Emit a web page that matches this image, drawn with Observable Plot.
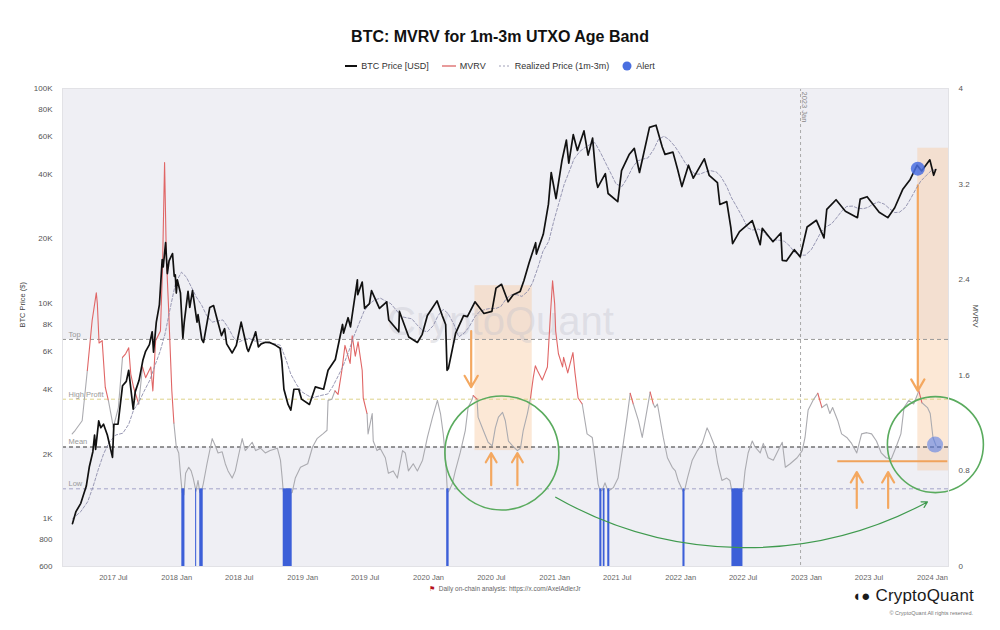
<!DOCTYPE html>
<html><head><meta charset="utf-8">
<script src="https://cdn.jsdelivr.net/npm/d3@7"></script>
<script src="https://cdn.jsdelivr.net/npm/@observablehq/plot@0.6"></script>
<style>
body{margin:0;background:#fff;font-family:"Liberation Sans",Arial,sans-serif;}
#wrap{position:relative;width:1000px;height:630px;overflow:hidden;background:#fff;}
#title{position:absolute;top:28px;left:0;width:1000px;text-align:center;font-size:16px;font-weight:bold;color:#111;}
#legend{position:absolute;top:61px;left:0;width:1000px;display:flex;justify-content:center;gap:13px;font-size:9px;color:#333;align-items:center;}
#legend span{display:flex;align-items:center;gap:4px;}
.layer{position:absolute;left:0;top:78px;}
#caption{position:absolute;top:585px;left:0;width:1010px;text-align:center;font-size:6.5px;color:#666;}
#caption b{color:#b5121b;font-weight:normal;font-size:7px;}
#brand{position:absolute;top:586px;right:26px;font-size:17px;color:#1a1a1a;letter-spacing:0.2px;}
#copy{position:absolute;top:610px;right:27px;font-size:5.5px;color:#777;}
</style></head>
<body><div id="wrap">
<div id="title">BTC: MVRV for 1m-3m UTXO Age Band</div>
<div id="legend">
<span><svg width="12" height="6"><line x1="0" y1="3" x2="12" y2="3" stroke="#111" stroke-width="2"/></svg>BTC Price [USD]</span>
<span><svg width="14" height="6"><line x1="0" y1="3" x2="14" y2="3" stroke="#e07a7a" stroke-width="1.5"/></svg>MVRV</span>
<span><svg width="12" height="6"><line x1="0" y1="3" x2="12" y2="3" stroke="#a0a0b8" stroke-width="1" stroke-dasharray="2,2"/></svg>Realized Price (1m-3m)</span>
<span><svg width="10" height="10"><circle cx="5" cy="5" r="4.5" fill="#4a6fe0"/></svg>Alert</span>
</div>
<div id="mvrvLayer" class="layer"></div>
<div id="priceLayer" class="layer"></div>
<div id="caption"><b>&#9873;</b>&nbsp; Daily on-chain analysis: https://x.com/AxelAdlerJr</div>
<div id="brand"><b style="font-size:15px">&#9686;&#9679;</b> CryptoQuant</div>
<div id="copy">&copy; CryptoQuant All rights reserved.</div>
</div>
<script>
// ---------- data ----------
const xDomainDates = ["2017-02-21", "2024-03-05"];
const xTickDates = ["2017-07-01","2018-01-01","2018-07-01","2019-01-01","2019-07-01","2020-01-01","2020-07-01","2021-01-01","2021-07-01","2022-01-01","2022-07-01","2023-01-01","2023-07-01","2024-01-01"];
const priceTicks = [600,800,1000,2000,4000,6000,8000,10000,20000,40000,60000,80000,100000];
const mvrvTicks = [0,0.8,1.6,2.4,3.2,4];
const thresholdNames = ["Top","High Profit","Mean","Low"];
const thresholdValues = [1.9,1.4,1.0,0.65];

const btcSeries = [["2017-03-22",950],["2017-04-01",1080],["2017-04-15",1180],["2017-05-01",1420],["2017-05-10",1750],["2017-05-20",2050],["2017-05-25",2450],["2017-05-28",2100],["2017-06-06",2850],["2017-06-12",2650],["2017-06-20",2750],["2017-07-01",2450],["2017-07-16",1930],["2017-07-20",2750],["2017-08-01",2750],["2017-08-14",4150],["2017-08-25",4350],["2017-09-01",4900],["2017-09-14",3230],["2017-09-20",3900],["2017-10-01",4400],["2017-10-12",5450],["2017-10-20",6000],["2017-10-31",6450],["2017-11-08",7400],["2017-11-12",5950],["2017-11-20",8200],["2017-11-29",9900],["2017-12-07",16000],["2017-12-10",14800],["2017-12-17",19200],["2017-12-22",13800],["2017-12-27",15800],["2018-01-06",17100],["2018-01-11",13400],["2018-01-14",13600],["2018-01-17",11200],["2018-01-20",12900],["2018-01-29",11200],["2018-02-05",6900],["2018-02-09",8200],["2018-02-20",11400],["2018-02-25",9600],["2018-03-05",11500],["2018-03-18",8200],["2018-03-21",8900],["2018-04-01",6800],["2018-04-06",6600],["2018-04-24",9600],["2018-05-05",9800],["2018-05-15",8500],["2018-05-28",7100],["2018-06-06",7650],["2018-06-12",6500],["2018-06-28",5900],["2018-07-10",6400],["2018-07-24",8200],["2018-08-10",6200],["2018-08-14",6000],["2018-08-30",7000],["2018-09-04",7400],["2018-09-12",6300],["2018-09-20",6500],["2018-10-01",6600],["2018-10-15",6600],["2018-11-01",6400],["2018-11-14",6200],["2018-11-19",5400],["2018-11-25",4000],["2018-12-07",3400],["2018-12-15",3200],["2018-12-24",4000],["2019-01-07",4000],["2019-01-15",3600],["2019-02-07",3400],["2019-02-24",4100],["2019-03-20",4000],["2019-04-02",4900],["2019-04-23",5500],["2019-05-14",8000],["2019-05-17",7300],["2019-05-30",8600],["2019-06-06",7800],["2019-06-26",12900],["2019-06-27",11000],["2019-07-10",12600],["2019-07-17",9500],["2019-07-31",10000],["2019-08-06",11500],["2019-08-29",9500],["2019-09-19",10200],["2019-09-25",8400],["2019-10-24",7400],["2019-10-26",9200],["2019-11-22",7000],["2019-12-17",6600],["2019-12-31",7200],["2020-01-15",8800],["2020-02-12",10300],["2020-02-27",8800],["2020-03-08",8000],["2020-03-12",4900],["2020-03-16",5000],["2020-04-06",7300],["2020-04-29",8800],["2020-05-10",8700],["2020-06-01",10200],["2020-06-27",9000],["2020-07-20",9200],["2020-08-01",11800],["2020-08-17",12300],["2020-09-05",10200],["2020-09-20",11000],["2020-10-10",11400],["2020-10-21",12800],["2020-11-05",15500],["2020-11-24",19200],["2020-11-26",17000],["2020-12-16",21000],["2020-12-31",29000],["2021-01-08",40700],["2021-01-22",30800],["2021-02-08",46000],["2021-02-21",57500],["2021-02-28",45000],["2021-03-13",61000],["2021-03-25",51500],["2021-04-13",63500],["2021-04-25",49000],["2021-05-08",58800],["2021-05-19",37000],["2021-05-23",34700],["2021-06-14",40200],["2021-06-22",32500],["2021-07-20",29800],["2021-07-31",41500],["2021-08-22",49300],["2021-09-06",52700],["2021-09-21",40700],["2021-10-20",66000],["2021-11-08",67500],["2021-11-26",53500],["2021-12-04",49400],["2021-12-27",50600],["2022-01-10",41800],["2022-01-22",35000],["2022-02-10",44000],["2022-02-24",38300],["2022-03-28",47100],["2022-04-11",39500],["2022-05-05",36500],["2022-05-12",28900],["2022-06-01",29800],["2022-06-13",22500],["2022-06-18",19000],["2022-07-08",21600],["2022-08-14",24300],["2022-09-06",18800],["2022-09-12",22400],["2022-10-13",19400],["2022-11-05",21300],["2022-11-09",15900],["2022-11-21",15800],["2022-12-14",17800],["2022-12-31",16500],["2023-01-20",22700],["2023-02-16",24400],["2023-03-10",20200],["2023-03-18",27400],["2023-04-14",30400],["2023-05-11",26900],["2023-06-15",25100],["2023-06-23",30600],["2023-07-13",31400],["2023-08-17",26600],["2023-09-11",25100],["2023-10-01",27900],["2023-10-24",33900],["2023-11-15",37800],["2023-12-05",44000],["2023-12-18",41400],["2024-01-11",46600],["2024-01-22",39500],["2024-01-28",42000]];

const realizedSeries = [["2017-03-22",1000],["2017-04-15",1080],["2017-05-05",1200],["2017-05-20",1400],["2017-06-05",1700],["2017-06-20",2000],["2017-07-05",2250],["2017-07-25",2450],["2017-08-15",2500],["2017-09-01",2750],["2017-09-15",3200],["2017-10-01",3500],["2017-10-15",3900],["2017-11-01",4400],["2017-11-15",5100],["2017-12-01",6000],["2017-12-15",7200],["2018-01-01",9800],["2018-01-15",12500],["2018-02-01",14000],["2018-02-15",13300],["2018-03-01",12000],["2018-03-15",10800],["2018-04-01",9800],["2018-04-15",8800],["2018-05-01",8200],["2018-05-15",8300],["2018-06-01",8400],["2018-06-15",7800],["2018-07-01",7000],["2018-07-15",6600],["2018-08-01",6800],["2018-08-15",6900],["2018-09-01",6700],["2018-09-15",6700],["2018-10-01",6600],["2018-10-15",6550],["2018-11-01",6500],["2018-11-15",6400],["2018-12-01",5500],["2018-12-15",4700],["2019-01-01",4200],["2019-01-15",3900],["2019-02-01",3750],["2019-02-15",3650],["2019-03-01",3700],["2019-03-15",3750],["2019-04-01",3800],["2019-04-15",4100],["2019-05-01",4600],["2019-05-15",5100],["2019-06-01",6000],["2019-06-15",7000],["2019-07-01",8100],["2019-07-15",9200],["2019-08-01",10000],["2019-08-15",10400],["2019-09-01",10600],["2019-09-15",10300],["2019-10-01",10000],["2019-10-15",9400],["2019-11-01",8700],["2019-11-15",8600],["2019-12-01",8500],["2019-12-15",8000],["2020-01-01",7500],["2020-01-15",7400],["2020-02-01",7900],["2020-02-15",8800],["2020-03-01",9400],["2020-03-15",9000],["2020-04-01",8000],["2020-04-15",7000],["2020-05-01",7300],["2020-05-15",7800],["2020-06-01",8700],["2020-06-15",9200],["2020-07-01",9400],["2020-07-15",9500],["2020-08-01",9500],["2020-08-15",9700],["2020-09-01",10600],["2020-09-15",11000],["2020-10-01",11000],["2020-10-15",10800],["2020-11-01",11400],["2020-11-15",12500],["2020-12-01",14800],["2020-12-15",17500],["2021-01-01",19500],["2021-01-15",24000],["2021-02-01",30000],["2021-02-15",36000],["2021-03-01",41000],["2021-03-15",47000],["2021-04-01",51000],["2021-04-15",53000],["2021-05-01",55000],["2021-05-15",56000],["2021-06-01",50000],["2021-06-15",45000],["2021-07-01",40000],["2021-07-15",36000],["2021-08-01",35000],["2021-08-15",38000],["2021-09-01",43000],["2021-09-15",46000],["2021-10-01",47000],["2021-10-15",47500],["2021-11-01",52000],["2021-11-15",58000],["2021-12-01",60000],["2021-12-15",58000],["2022-01-01",54000],["2022-01-15",50000],["2022-02-01",45000],["2022-02-15",42000],["2022-03-01",40000],["2022-03-15",40000],["2022-04-01",41000],["2022-04-15",41500],["2022-05-01",41000],["2022-05-15",39000],["2022-06-01",35000],["2022-06-15",31000],["2022-07-01",28000],["2022-07-15",25500],["2022-08-01",22500],["2022-08-15",22000],["2022-09-01",22200],["2022-09-15",21600],["2022-10-01",20300],["2022-10-15",19800],["2022-11-01",19700],["2022-11-15",19500],["2022-12-01",18500],["2022-12-15",17300],["2023-01-01",16800],["2023-01-15",16800],["2023-02-01",17800],["2023-02-15",19500],["2023-03-01",21500],["2023-03-15",22700],["2023-04-01",23500],["2023-04-15",25000],["2023-05-01",27000],["2023-05-15",28300],["2023-06-01",28400],["2023-06-15",27800],["2023-07-01",27600],["2023-07-15",28000],["2023-08-01",29100],["2023-08-15",29700],["2023-09-01",29000],["2023-09-15",27700],["2023-10-01",26500],["2023-10-15",26600],["2023-11-01",28000],["2023-11-15",30500],["2023-12-01",34000],["2023-12-15",37000],["2024-01-01",39500],["2024-01-15",41500],["2024-01-28",42000]];

const mvrvSeries = [["2017-03-21",1.11],["2017-03-30",1.14],["2017-04-19",1.22],["2017-05-04",1.64],["2017-05-18",2.06],["2017-05-30",2.29],["2017-06-02",2.2],["2017-06-07",1.87],["2017-06-16",1.89],["2017-06-25",1.50],["2017-07-04",1.39],["2017-07-15",1.22],["2017-07-18",1.16],["2017-08-02",1.33],["2017-08-14",1.75],["2017-08-23",1.78],["2017-09-01",1.83],["2017-09-07",1.61],["2017-09-15",1.5],["2017-09-30",1.36],["2017-10-11",1.67],["2017-10-20",1.58],["2017-11-04",1.67],["2017-11-10",1.47],["2017-11-18",1.89],["2017-12-02",1.97],["2017-12-08",2.5],["2017-12-14",3.38],["2017-12-19",2.6],["2017-12-25",2.2],["2018-01-04",1.47],["2018-01-10",1.2],["2018-01-17",1.0],["2018-01-24",0.95],["2018-01-30",0.74],["2018-02-03",0.62],["2018-02-08",0.6],["2018-02-13",0.78],["2018-02-22",0.83],["2018-03-01",0.8],["2018-03-07",0.74],["2018-03-15",0.63],["2018-03-21",0.72],["2018-03-26",0.62],["2018-03-31",0.63],["2018-04-05",0.69],["2018-04-16",0.86],["2018-05-01",1.07],["2018-05-10",1.01],["2018-05-18",0.95],["2018-05-30",0.96],["2018-06-08",0.86],["2018-06-16",0.8],["2018-06-28",0.74],["2018-07-07",0.8],["2018-07-15",0.91],["2018-07-27",1.07],["2018-08-05",0.97],["2018-08-14",1.0],["2018-08-25",1.04],["2018-09-04",0.97],["2018-09-18",0.99],["2018-10-02",0.95],["2018-10-16",0.97],["2018-11-06",0.99],["2018-11-15",0.89],["2018-11-20",0.74],["2018-11-23",0.63],["2018-12-05",0.6],["2018-12-19",0.62],["2018-12-28",0.74],["2019-01-12",0.83],["2019-02-02",0.86],["2019-02-16",1.0],["2019-03-01",1.07],["2019-03-18",1.11],["2019-03-30",1.14],["2019-04-02",1.39],["2019-04-13",1.4],["2019-04-22",1.47],["2019-05-01",1.44],["2019-05-12",1.64],["2019-05-21",1.85],["2019-06-05",1.7],["2019-06-11",1.93],["2019-06-20",1.76],["2019-06-28",1.88],["2019-07-10",1.64],["2019-07-13",1.41],["2019-07-24",1.28],["2019-07-27",1.11],["2019-08-08",1.28],["2019-08-11",1.05],["2019-08-22",0.97],["2019-08-31",0.99],["2019-09-15",0.91],["2019-09-24",0.78],["2019-10-08",0.8],["2019-10-20",0.74],["2019-11-04",0.97],["2019-11-12",0.95],["2019-11-21",0.8],["2019-12-05",0.86],["2019-12-17",0.8],["2020-01-01",0.89],["2020-01-15",1.08],["2020-01-30",1.25],["2020-02-13",1.39],["2020-02-22",1.28],["2020-03-01",1.11],["2020-03-08",0.89],["2020-03-13",0.62],["2020-03-17",0.63],["2020-03-27",0.69],["2020-04-05",0.8],["2020-04-19",0.95],["2020-05-04",1.14],["2020-05-12",1.33],["2020-05-24",1.4],["2020-05-27",1.43],["2020-06-07",1.4],["2020-06-10",1.25],["2020-06-25",1.14],["2020-07-09",1.04],["2020-07-21",1.01],["2020-07-30",1.16],["2020-08-08",1.25],["2020-08-20",1.29],["2020-08-28",1.22],["2020-09-06",1.05],["2020-09-18",1.01],["2020-10-02",0.97],["2020-10-11",0.99],["2020-10-19",1.14],["2020-10-31",1.28],["2020-11-09",1.41],["2020-11-17",1.58],["2020-11-23",1.68],["2020-11-29",1.64],["2020-12-13",1.56],["2020-12-28",1.67],["2021-01-06",2.12],["2021-01-12",2.39],["2021-01-18",2.2],["2021-01-21",1.97],["2021-01-29",1.78],["2021-02-10",1.67],["2021-02-13",1.75],["2021-02-25",1.62],["2021-03-04",1.7],["2021-03-12",1.79],["2021-03-18",1.62],["2021-03-27",1.41],["2021-04-08",1.36],["2021-04-22",1.11],["2021-05-07",1.08],["2021-05-15",0.91],["2021-05-24",0.69],["2021-05-30",0.63],["2021-06-05",0.64],["2021-06-13",0.7],["2021-06-22",0.63],["2021-07-07",0.66],["2021-07-21",0.74],["2021-08-02",0.97],["2021-08-16",1.25],["2021-08-25",1.45],["2021-09-03",1.36],["2021-09-18",1.22],["2021-09-29",1.08],["2021-10-14",1.33],["2021-10-22",1.46],["2021-10-31",1.36],["2021-11-05",1.33],["2021-11-12",1.36],["2021-11-29",1.08],["2021-12-11",0.91],["2021-12-25",0.83],["2022-01-03",0.8],["2022-01-11",0.72],["2022-01-25",0.63],["2022-01-30",0.64],["2022-02-07",0.74],["2022-02-21",0.89],["2022-03-08",0.97],["2022-03-22",1.03],["2022-04-05",1.16],["2022-04-13",1.11],["2022-04-28",1.0],["2022-05-06",0.86],["2022-05-18",0.72],["2022-06-01",0.74],["2022-06-10",0.72],["2022-06-16",0.63],["2022-07-01",0.62],["2022-07-18",0.63],["2022-07-24",0.8],["2022-08-02",0.95],["2022-08-14",1.05],["2022-08-22",1.0],["2022-09-06",0.95],["2022-09-15",1.03],["2022-09-29",0.91],["2022-10-14",0.89],["2022-10-28",0.97],["2022-11-09",1.04],["2022-11-18",0.83],["2022-12-02",0.86],["2022-12-22",0.91],["2023-01-06",0.97],["2023-01-14",1.08],["2023-01-23",1.31],["2023-02-06",1.39],["2023-02-20",1.45],["2023-03-04",1.33],["2023-03-18",1.36],["2023-03-27",1.28],["2023-04-04",1.33],["2023-04-19",1.22],["2023-04-30",1.11],["2023-05-15",1.08],["2023-05-29",1.03],["2023-06-13",0.95],["2023-06-27",1.11],["2023-07-12",1.12],["2023-07-26",1.11],["2023-08-09",1.05],["2023-08-23",0.95],["2023-09-06",0.91],["2023-09-21",0.9],["2023-10-05",1.0],["2023-10-19",1.11],["2023-10-28",1.33],["2023-11-11",1.39],["2023-11-25",1.36],["2023-12-10",1.47],["2023-12-19",1.37],["2024-01-04",1.33],["2024-01-12",1.28],["2024-01-20",1.08],["2024-01-29",1.01]];

// periods where MVRV sat below the Low band (blue alert bars)
const lowAlertPeriods = [["2018-02-02","2018-02-11"],["2018-03-14","2018-03-17"],["2018-03-26","2018-04-05"],["2018-11-23","2018-12-19"],["2020-03-11","2020-03-18"],["2021-05-29","2021-06-04"],["2021-06-08","2021-06-13"],["2021-06-21","2021-06-27"],["2022-01-25","2022-01-31"],["2022-06-16","2022-07-18"]];
// alert points
const priceAlerts = [["2023-12-07",42400]];
const mvrvAlerts = [["2024-01-26",1.02]];
// annotation data
const shadedPeriods = [["2020-06-01","2020-11-14",0.97,2.35],["2023-12-07","2024-03-05",0.8,3.5]];
const orangeArrows = [["2020-05-21",1.97,1.5],["2020-07-18",0.68,0.95],["2020-10-02",0.68,0.95],["2023-06-13",0.49,0.79],["2023-09-12",0.49,0.79],["2023-12-07",3.19,1.47]];
const supportLine = [["2023-04-19","2024-03-03",0.88]];
const greenCircles = [["2020-08-18",0.95,57],["2024-01-27",1.02,48]];
const greenCurve = [["2021-01-21",0.58,"2024-01-04",0.54]];
const markerLines = [["2023-01-01","2023 Jan"]];

// ---------- build ----------
const D = s => new Date(s);
const xDomain = xDomainDates.map(D);
const btc = btcSeries.map(([d,v]) => ({date:D(d), v}));
const realized = realizedSeries.map(([d,v]) => ({date:D(d), v}));
const mvrv = mvrvSeries.map(([d,v]) => ({date:D(d), v}));
const thresholds = thresholdNames.map((n,i) => ({name:n, v:thresholdValues[i]}));
const highProfit = thresholdValues[1];

const common = {width:1000, height:508, marginLeft:62, marginRight:52, marginTop:10, marginBottom:20};
const gray = "#efeff4";
const thrStroke = {"Top":"#9a9a9a","High Profit":"#ddd28a","Mean":"#333","Low":"#a3a3c8"};

const mvrvPlot = Plot.plot({
  ...common,
  style:{background:"white", fontFamily:"Liberation Sans, Arial, sans-serif", fontSize:"8px", color:"#666"},
  x:{type:"utc", domain:xDomain},
  y:{domain:[0,4]},
  marks:[
    Plot.rect([[0,thresholdValues[2]],[thresholdValues[0],4]], {x1:()=>xDomain[0], x2:()=>xDomain[1], y1:d=>d[0], y2:d=>d[1], fill:gray}),
    Plot.rect(shadedPeriods, {x1:d=>D(d[0]), x2:d=>D(d[1]), y1:d=>d[2], y2:d=>d[3], fill:"#f9c89e", fillOpacity:0.42}),
    Plot.text(["CryptoQuant"], {frameAnchor:"middle", text:d=>d, fontSize:40, fill:"#c4c4cc", fillOpacity:0.4, dx:-5, dy:-5}),
    Plot.ruleY(thresholds, {y:"v", stroke:d=>thrStroke[d.name], strokeDasharray:"4,3", strokeWidth:1}),
    Plot.text(thresholds, {x:()=>xDomain[0], y:"v", text:"name", textAnchor:"start", dx:6, dy:-5, fill:"#999", fontSize:7.5}),
    Plot.ruleX(markerLines, {x:d=>D(d[0]), stroke:"#aaa", strokeDasharray:"3,3"}),
    Plot.text(markerLines, {x:d=>D(d[0]), y:()=>4, text:d=>d[1], rotate:90, textAnchor:"start", dx:4, dy:3, fill:"#888", fontSize:7.5}),
    Plot.line(mvrv, {x:"date", y:"v", z:null, stroke:d=>d.v > highProfit ? "#e06666" : "#ababb0", strokeWidth:1.1}),
    Plot.rect(lowAlertPeriods, {x1:d=>D(d[0]), x2:d=>D(d[1]), y1:0, y2:thresholdValues[3], fill:"#3c5fd8"}),
    Plot.ruleY(supportLine, {y:d=>d[2], x1:d=>D(d[0]), x2:d=>D(d[1]), stroke:"#f0a35c", strokeWidth:2}),
    Plot.arrow(orangeArrows, {x1:d=>D(d[0]), x2:d=>D(d[0]), y1:d=>d[1], y2:d=>d[2], stroke:"#f4a860", strokeWidth:2.2, headLength:9}),
    Plot.dot(greenCircles.slice(0,1), {x:d=>D(d[0]), y:d=>d[1], r:57, stroke:"#5aab5e", strokeWidth:1.6, fill:"none"}),
    Plot.dot(greenCircles.slice(1), {x:d=>D(d[0]), y:d=>d[1], r:48, stroke:"#5aab5e", strokeWidth:1.6, fill:"none"}),
    Plot.arrow(greenCurve, {x1:d=>D(d[0]), y1:d=>d[1], x2:d=>D(d[2]), y2:d=>d[3], bend:-29, stroke:"#3f9a4e", strokeWidth:1.2, headLength:8}),
    Plot.dot(mvrvAlerts, {x:d=>D(d[0]), y:d=>d[1], r:8, fill:"#5a7fe6", fillOpacity:0.6}),
    Plot.frame({stroke:"#e2e2e6"}),
    Plot.axisY(mvrvTicks, {anchor:"right", tickSize:0, tickPadding:10, tickFormat:d=>String(d), label:null, fontSize:8, fill:"#555"}),
    Plot.axisX(xTickDates.map(D), {tickSize:0, tickPadding:8, tickFormat:d3.utcFormat("%Y %b"), label:null, dx:6, fontSize:7.5, fill:"#666"}),
    Plot.text(["MVRV"], {frameAnchor:"right", text:d=>d, rotate:90, dx:27, fontSize:8, fill:"#444"})
  ]
});
document.getElementById("mvrvLayer").appendChild(mvrvPlot);

const fmtK = d => d >= 1000 ? (d/1000) + "K" : String(d);
const pricePlot = Plot.plot({
  ...common,
  style:{background:"transparent", fontFamily:"Liberation Sans, Arial, sans-serif", fontSize:"8px", color:"#555"},
  x:{type:"utc", domain:xDomain, axis:null},
  y:{type:"log", domain:[600,100000], axis:null},
  marks:[
    Plot.text(priceTicks, {frameAnchor:"left", y:d=>d, text:fmtK, textAnchor:"end", dx:-10, fontSize:8, fill:"#555"}),
    Plot.line(realized, {x:"date", y:"v", stroke:"#8d8dab", strokeWidth:0.9, strokeDasharray:"3,2"}),
    Plot.line(btc, {x:"date", y:"v", stroke:"#111", strokeWidth:1.7}),
    Plot.dot(priceAlerts, {x:d=>D(d[0]), y:d=>d[1], r:7, fill:"#4a6fe0", fillOpacity:0.85}),
    Plot.text(["BTC Price ($)"], {frameAnchor:"left", text:d=>d, rotate:-90, dx:-40, fontSize:7.5, fill:"#444"})
  ]
});
pricePlot.style.pointerEvents = "none";
document.getElementById("priceLayer").appendChild(pricePlot);
</script>
</body></html>
